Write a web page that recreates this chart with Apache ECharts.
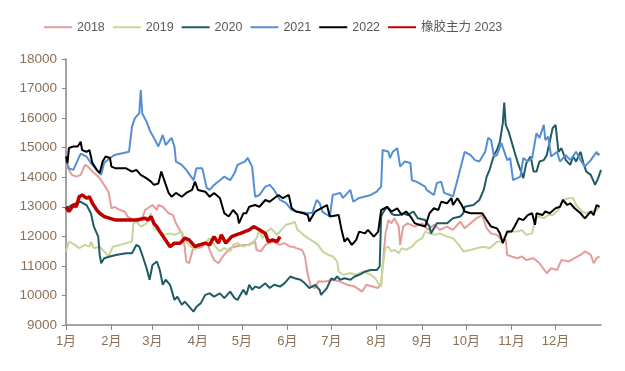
<!DOCTYPE html>
<html><head><meta charset="utf-8">
<script src="https://cdn.jsdelivr.net/npm/echarts@6/dist/echarts.min.js"></script>
<style>html,body{margin:0;padding:0;background:#fff}#c{width:625px;height:371px}</style>
</head><body><div id="c"></div>
<script>
// x = day of year (0 = Jan 1)
const monthStarts = [0,31,59,90,120,151,181,212,243,273,304,334];
const monthLabels = ['1月','2月','3月','4月','5月','6月','7月','8月','9月','10月','11月','12月'];
const yTicks = [9000,10000,11000,12000,13000,14000,15000,16000,17000,18000];
const seriesNames = ['2018','2019','2020','2021','2022','橡胶主力 2023'];

const s2018 = [[0,14420],[4,14080],[7,14020],[10,14080],[13,14420],[15,14360],[18,14190],[22,14020],[24,13900],[26,13740],[29,13510],[30,13230],[31,12950],[33,13000],[37,12890],[40,12840],[42,12670],[46,12550],[49,12500],[52,12620],[54,12890],[59,13060],[62,12890],[63,13060],[66,13000],[70,12780],[73,12720],[75,12440],[79,12100],[81,11650],[82,11150],[84,11090],[87,11650],[90,11600],[93,11650],[96,11820],[98,11540],[101,11200],[104,11090],[107,11320],[112,11600],[115,11650],[121,11710],[125,11710],[129,11820],[130,11540],[133,11490],[136,11710],[138,11770],[141,11820],[146,11710],[149,11770],[153,11650],[155,11650],[157,11600],[161,11540],[163,11320],[165,10700],[167,10300],[170,10250],[172,10470],[177,10470],[182,10530],[187,10470],[192,10360],[197,10300],[202,10130],[205,10360],[209,10300],[213,10250],[215,10410],[218,12100],[220,12550],[222,12440],[224,12610],[227,12330],[228,11710],[230,12330],[233,12440],[238,12330],[243,12440],[247,12220],[251,12390],[255,12220],[260,12330],[264,12220],[269,12500],[272,12270],[276,12440],[280,12610],[284,12720],[287,12270],[290,12100],[294,12050],[297,11880],[300,11880],[301,11370],[304,11320],[308,11260],[311,11320],[314,11200],[319,11260],[323,11090],[328,10750],[331,10920],[335,10860],[338,11200],[343,11150],[347,11260],[351,11370],[354,11490],[358,11370],[360,11090],[362,11260],[364,11320]];

const s2019 = [[0,11490],[2,11820],[6,11710],[9,11600],[13,11710],[16,11650],[17,11820],[19,11600],[23,11650],[26,11490],[29,11320],[32,11650],[37,11710],[41,11770],[45,11820],[46,12440],[48,12500],[51,12330],[55,12440],[58,12780],[60,12270],[64,12160],[67,12050],[71,12100],[74,12050],[79,12160],[81,11880],[84,11710],[88,11540],[91,11710],[95,11770],[98,11940],[101,11710],[105,11490],[108,11600],[112,11490],[114,11710],[117,11770],[121,11650],[124,11710],[128,11820],[130,11940],[132,12220],[134,11940],[137,12160],[140,12270],[144,12050],[147,12220],[150,12390],[154,12440],[156,12500],[158,12220],[162,12050],[165,11940],[169,11820],[172,11710],[175,11490],[179,11370],[182,11320],[185,11150],[186,10810],[189,10700],[194,10750],[198,10700],[203,10810],[208,10700],[211,10580],[213,10410],[215,10300],[216,10980],[218,11600],[220,11650],[222,11490],[224,11540],[227,11430],[229,11600],[232,11540],[236,11650],[239,11820],[243,11940],[245,12160],[248,12100],[252,12050],[255,12100],[260,11990],[264,11940],[268,11710],[271,11490],[276,11540],[280,11600],[285,11650],[289,11600],[294,11820],[297,11820],[301,12100],[304,12160],[308,12160],[311,12220],[314,12050],[318,12100],[320,12550],[322,12670],[326,12610],[329,12720],[332,12720],[336,12890],[339,13230],[343,13290],[346,13290],[348,13060],[352,12840],[355,12780],[359,12840],[362,12890],[364,13000]];

const s2020 = [[0,12950],[4,13060],[7,13120],[10,13170],[14,13060],[17,12780],[19,12330],[22,11990],[23,11370],[24,11090],[26,11260],[30,11320],[34,11370],[41,11430],[45,11430],[48,11710],[50,11650],[52,11370],[55,10920],[57,10530],[59,11030],[62,11150],[64,10860],[66,10360],[68,10530],[71,10360],[74,9850],[76,9960],[79,9680],[81,9790],[84,9620],[87,9450],[89,9620],[92,9740],[95,10020],[98,10070],[101,9960],[105,10070],[108,9910],[112,10130],[115,9910],[117,9850],[121,10190],[123,10020],[125,10360],[127,10190],[129,10300],[132,10250],[136,10410],[139,10250],[142,10360],[146,10300],[149,10410],[153,10640],[156,10580],[160,10530],[163,10410],[166,10250],[170,10360],[173,10190],[174,10020],[178,10250],[181,10580],[183,10530],[185,10640],[187,10530],[190,10580],[194,10530],[197,10640],[200,10700],[204,10810],[208,10860],[212,10860],[214,10980],[215,12670],[216,12780],[219,13000],[222,12780],[224,12720],[227,12720],[230,12780],[233,12720],[237,12840],[240,12610],[245,12550],[248,12330],[249,12100],[253,12440],[258,12440],[260,12440],[264,12610],[269,12670],[271,12780],[272,13000],[278,13060],[282,13230],[285,13570],[287,14020],[289,14250],[292,14750],[294,14920],[296,15200],[298,15830],[299,16530],[300,15770],[302,15540],[304,15200],[306,14860],[308,14530],[310,14250],[312,13970],[314,14470],[317,14700],[319,14190],[321,14190],[323,14530],[326,14580],[328,14750],[330,15200],[332,15660],[334,15770],[336,14860],[338,14980],[341,14580],[344,14420],[346,14700],[348,14530],[351,14860],[353,14470],[355,14190],[358,14080],[361,13740],[363,13960],[365,14250]];

const s2021 = [[0,14580],[2,14300],[5,14250],[8,14580],[10,14800],[14,14700],[17,14480],[21,14250],[24,14080],[26,14480],[30,14650],[33,14750],[43,14860],[45,15710],[47,16000],[50,16170],[51,16950],[52,16160],[55,15880],[57,15600],[60,15330],[63,15040],[66,15430],[68,15090],[72,15330],[74,15040],[75,14530],[79,14420],[82,14250],[87,13900],[89,14300],[93,14300],[96,13640],[98,13570],[101,13740],[105,13900],[108,14020],[112,13900],[115,14140],[117,14420],[122,14530],[124,14650],[127,14360],[129,13340],[132,13400],[136,13680],[139,13740],[142,13570],[146,13230],[150,13130],[154,12890],[157,12840],[164,12790],[168,12790],[171,13230],[173,13130],[175,12830],[180,12670],[182,13400],[187,13470],[189,13300],[194,13570],[196,13170],[200,13300],[208,13400],[212,13510],[215,13680],[216,14920],[220,14860],[221,14650],[223,14860],[226,14980],[228,14360],[231,14530],[235,14480],[236,13900],[239,13850],[245,13680],[246,13570],[251,13400],[253,13800],[256,13850],[258,13470],[262,13400],[264,13340],[267,13900],[272,14860],[276,14750],[279,14580],[282,14530],[286,14860],[288,15330],[290,15260],[292,14700],[294,14750],[297,15160],[301,14580],[303,14650],[305,13900],[310,14020],[312,14650],[315,14530],[318,14650],[321,15490],[323,15330],[326,15770],[327,15260],[329,15370],[331,14700],[335,14860],[337,14530],[341,14750],[344,14580],[348,14860],[351,14580],[354,14360],[358,14580],[362,14860],[363,14750],[364,14800]];

const s2022 = [[0,14700],[1,14480],[2,14990],[5,15040],[8,15040],[10,15200],[11,14920],[14,14860],[16,14920],[18,14480],[21,14250],[23,14140],[25,14530],[27,14700],[30,14650],[31,14360],[34,14300],[41,14300],[45,14190],[48,14250],[51,14080],[55,13960],[58,13850],[60,13740],[63,13790],[65,14190],[67,13900],[70,13470],[72,13340],[75,13470],[79,13340],[82,13470],[86,13570],[88,13850],[90,13570],[95,13510],[98,13340],[101,13470],[105,13300],[108,12780],[111,12670],[114,12890],[117,12720],[118,12440],[121,12780],[123,12780],[125,13000],[129,13060],[132,13000],[136,13230],[139,13170],[142,13290],[145,13400],[148,13290],[152,13400],[154,12950],[157,12840],[162,12780],[165,12720],[166,12500],[170,12840],[174,12950],[178,13060],[180,12670],[186,12720],[188,12220],[190,11820],[192,11940],[195,11710],[198,11880],[200,12160],[204,12100],[206,12220],[210,11990],[213,12160],[215,12890],[219,13000],[222,12840],[226,12950],[229,12720],[232,12840],[235,12670],[238,12440],[241,12390],[245,12330],[246,12270],[248,12780],[251,12950],[254,12890],[256,13170],[260,13120],[263,13290],[264,13060],[267,13290],[270,13060],[272,12840],[276,12780],[284,12780],[287,12550],[290,12330],[294,12270],[296,12100],[298,11770],[301,12160],[304,12160],[306,12330],[309,12610],[312,12550],[315,12720],[318,12780],[320,12390],[321,12780],[325,12720],[327,12840],[330,12780],[334,12950],[337,13000],[339,13230],[342,13060],[344,13120],[347,12950],[351,12780],[354,12610],[358,12840],[360,12720],[362,13060],[364,13000]];

const s2023 = [[0,13000],[2,12840],[5,13060],[7,13000],[9,13340],[11,13400],[14,13290],[16,13340],[18,13120],[21,12890],[23,12780],[26,12670],[30,12610],[34,12550],[41,12550],[48,12550],[54,12610],[56,12550],[58,12670],[60,12440],[62,12330],[64,12160],[67,11940],[71,11650],[74,11770],[78,11770],[81,11940],[84,11880],[88,11650],[91,11710],[95,11770],[98,11710],[101,11990],[104,11770],[106,12050],[109,11770],[113,11990],[116,12050],[119,12100],[122,12160],[125,12220],[128,12330],[132,12220],[136,12100],[138,11820],[141,11880],[144,11820],[146,11990]];

const allData = [s2018, s2019, s2020, s2021, s2022, s2023];
const colors = ['#e59c9b','#c3d69b','#1f5b63','#558ed5','#000000','#c00000'];
const widths = [2,2,2,2,2,3.5];

const chart = echarts.init(document.getElementById('c'), null, {renderer:'canvas'});
const labelColor = '#8a7058';
chart.setOption({
  animation:false,
  backgroundColor:'#ffffff',
  color: colors,
  legend:{
    left:38, top:16, itemWidth:28, itemHeight:14, itemGap:7,
    itemStyle:{opacity:0},
    textStyle:{color:'#595959', fontSize:12.5, fontFamily:'Liberation Sans, Noto Sans CJK SC'},
    data: seriesNames
  },
  grid:{left:66, right:24, top:59, bottom:46, containLabel:false},
  xAxis:{
    type:'value', min:0, max:365,
    axisLine:{show:true, lineStyle:{color:'#868686', width:1.5}},
    axisTick:{show:true, length:5, customValues: monthStarts, lineStyle:{color:'#868686'}},
    axisLabel:{customValues: monthStarts, margin:10, color:labelColor, fontSize:13, fontFamily:'Liberation Sans, Noto Sans CJK SC',
      formatter:function(v){const i=monthStarts.indexOf(Math.round(v));return i>=0?monthLabels[i]:'';}},
    splitLine:{show:false}
  },
  yAxis:{
    type:'value', min:yTicks[0], max:yTicks[yTicks.length-1], interval:1000,
    axisLine:{show:true, lineStyle:{color:'#868686', width:1.5}},
    axisTick:{show:true, length:4, lineStyle:{color:'#868686'}},
    axisLabel:{margin:9, color:labelColor, fontSize:13.5, fontFamily:'Liberation Sans',
      formatter:function(v){return String(v);}},
    splitLine:{show:false}
  },
  series: allData.map((d,i)=>({
    name: seriesNames[i], type:'line', data:d, symbol:'none', showSymbol:false,
    lineStyle:{width:widths[i], color:colors[i]}, itemStyle:{color:colors[i]},
    z: 2+i
  }))
});
</script></body></html>
